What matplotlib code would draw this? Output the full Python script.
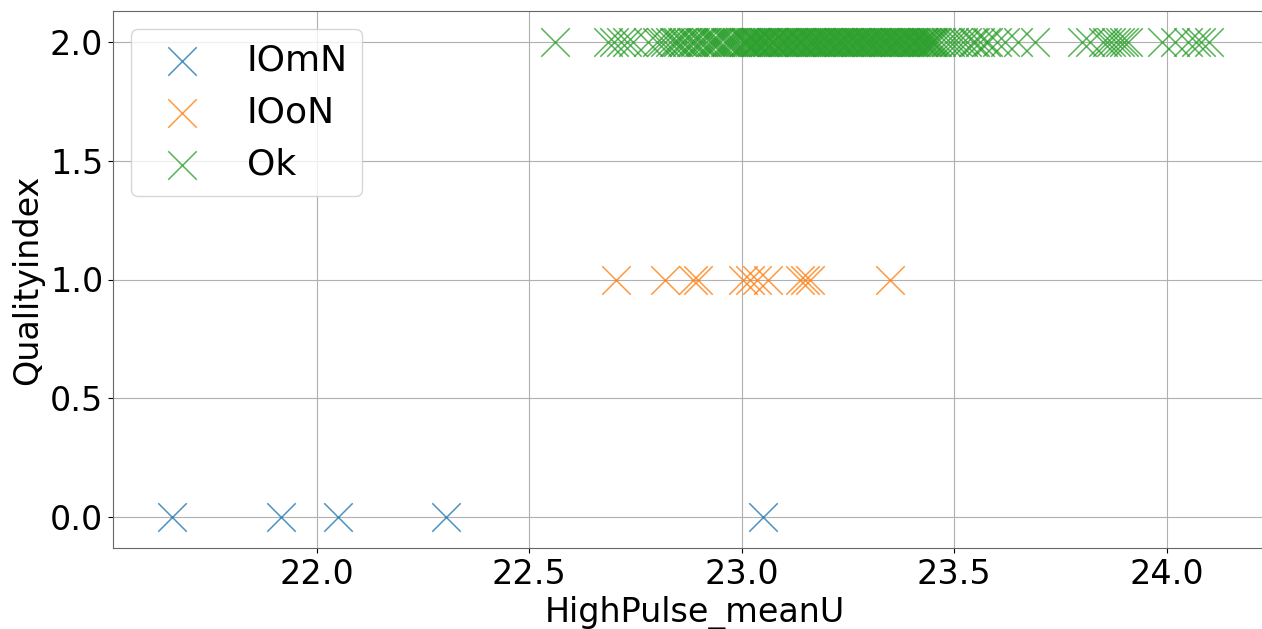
import numpy as np
import matplotlib
matplotlib.use("Agg")
import matplotlib.pyplot as plt

# Qualityindex per class: 0 = IOmN, 1 = IOoN, 2 = Ok
labels = ["IOmN", "IOoN", "Ok"]
quality = [0, 1, 2]

iomn_x = [21.66, 21.916, 22.049, 22.304, 23.049]

iooN_x = [22.704, 22.819, 22.885, 22.897, 23.003, 23.019, 23.035, 23.062,
          23.136, 23.148, 23.16, 23.348]

ok_x = [22.56,
        22.685, 22.70, 22.715, 22.73, 22.745,
        22.78, 22.80, 22.81, 22.82, 22.83, 22.84, 22.845, 22.85, 22.86, 22.865,
        22.87, 22.88, 22.885, 22.89, 22.90, 22.905, 22.91, 22.915, 22.925,
        22.93, 22.935, 22.94, 22.945, 22.95, 22.96, 22.965, 22.97, 22.975,
        22.98, 22.985, 22.99, 22.995,
        23.002, 23.006, 23.011, 23.015, 23.019, 23.024, 23.028, 23.033, 23.037,
        23.041, 23.046, 23.05, 23.055, 23.059, 23.063, 23.068, 23.072, 23.077,
        23.081, 23.085, 23.09, 23.094, 23.099, 23.103, 23.107, 23.112, 23.116,
        23.121, 23.125, 23.129, 23.134, 23.138, 23.143, 23.147, 23.151, 23.156,
        23.16, 23.165, 23.169, 23.173, 23.178, 23.182, 23.187, 23.191, 23.195,
        23.2, 23.204, 23.209, 23.213, 23.217, 23.222, 23.226, 23.231, 23.235,
        23.239, 23.244, 23.248, 23.253, 23.257, 23.261, 23.266, 23.27, 23.275,
        23.279, 23.283, 23.288, 23.292, 23.297, 23.301, 23.305, 23.31, 23.314,
        23.319, 23.323, 23.327, 23.332, 23.336, 23.341, 23.345, 23.349, 23.354,
        23.358, 23.363, 23.367, 23.371, 23.376, 23.38, 23.385, 23.389, 23.393,
        23.398, 23.402, 23.407, 23.411, 23.415, 23.42, 23.424, 23.429, 23.433,
        23.437, 23.442, 23.446, 23.451, 23.455,
        23.009, 23.031, 23.052, 23.074, 23.096, 23.118, 23.14, 23.162, 23.184,
        23.206, 23.228, 23.25, 23.272, 23.294, 23.316, 23.338, 23.36, 23.382,
        23.404, 23.426, 23.448,
        23.46, 23.47, 23.48, 23.49, 23.50, 23.51, 23.52, 23.53, 23.545, 23.55,
        23.56, 23.575, 23.58, 23.60, 23.62, 23.65, 23.69,
        23.80, 23.82, 23.85, 23.86, 23.87, 23.88, 23.89, 23.90, 23.91,
        23.99, 24.02, 24.05, 24.07, 24.08, 24.10]

groups = [iomn_x, iooN_x, ok_x]
colors = ["#1f77b4", "#ff7f0e", "#2ca02c"]

plt.rcParams['font.size'] = 24

fig = plt.figure(figsize=(12.62, 6.29), dpi=100)
# axes runs a little past the right edge of the canvas, as in the reference
ax = fig.add_axes([113 / 1262, 81 / 629, 1164 / 1262, 537 / 629])

for xs, q, lab, c in zip(groups, quality, labels, colors):
    ax.scatter(xs, [q] * len(xs), marker='x', s=420, linewidths=1.1,
               color=c, alpha=0.8, label=lab)

ax.set_xlim(21.52, 24.26)
ax.set_ylim(-0.13, 2.13)
ax.set_xticks([22.0, 22.5, 23.0, 23.5, 24.0])
ax.set_yticks([0.0, 0.5, 1.0, 1.5, 2.0])
ax.grid(True, color='#b0b0b0', linewidth=0.8)
ax.set_axisbelow(True)
for sp in ax.spines.values():
    sp.set_color('0.4')
ax.spines['right'].set_visible(False)

ax.set_xlabel("HighPulse_meanU")
ax.set_ylabel("Qualityindex")
ax.legend(loc='upper left', fontsize=26)

fig.savefig("out.png", dpi=100)
